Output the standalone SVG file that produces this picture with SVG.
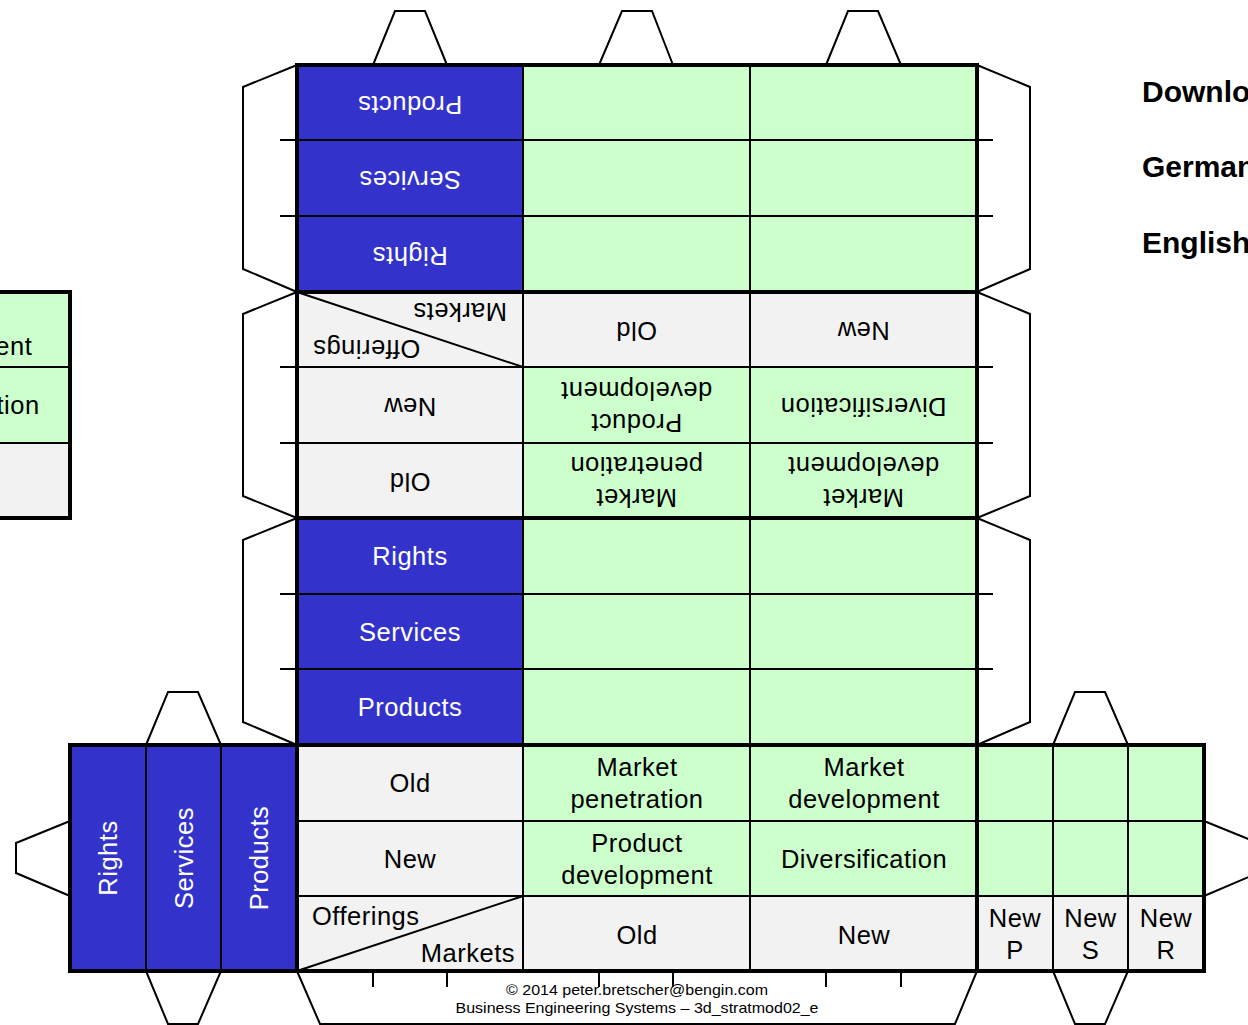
<svg xmlns="http://www.w3.org/2000/svg" width="1248" height="1025" viewBox="0 0 1248 1025">
<defs>
<style>
.bg{fill:#fff}
.blue{fill:#3333CC}
.green{fill:#CCFFCC}
.gray{fill:#F2F2F2}
.thick{stroke:#000;stroke-width:4;fill:none}
.thin{stroke:#000;stroke-width:2;fill:none}
.tab{stroke:#000;stroke-width:2;fill:#fff;stroke-linejoin:miter}
.t{font-family:"Liberation Sans",Arial,sans-serif;font-size:25.5px;letter-spacing:0.5px;text-anchor:middle;fill:#000}
.w{fill:#fff}
.st{text-anchor:start}
.en{text-anchor:end}
.foot{font-family:"Liberation Sans",Arial,sans-serif;font-size:15px;text-anchor:middle;fill:#000}
.dl{font-family:"Liberation Sans",Arial,sans-serif;font-size:30px;font-weight:bold;fill:#000}
</style>
</defs>
<rect class="bg" x="0" y="0" width="1248" height="1025"/>

<!-- tabs -->
<g id="tabs">
<polyline class="tab" points="373,65 395,11 425,11 447,65"/>
<polyline class="tab" points="599,65 622,11 652,11 673,65"/>
<polyline class="tab" points="826,65 848,11 878,11 901,65"/>
<polyline class="tab" points="297,65 243,87 243,269 297,292"/>
<polyline class="tab" points="297,292 243,314 243,496 297,518"/>
<polyline class="tab" points="297,518 243,540 243,722 297,745"/>
<polyline class="tab" points="977,65 1030,87 1030,269 977,292"/>
<polyline class="tab" points="977,292 1030,314 1030,496 977,518"/>
<polyline class="tab" points="977,518 1030,540 1030,722 977,745"/>
<polyline class="tab" points="146,745 168,692 198,692 221,745"/>
<polyline class="tab" points="146,971 168,1024 198,1024 221,971"/>
<polyline class="tab" points="70,821 16,843 16,873 70,896"/>
<polyline class="tab" points="1053,745 1075,692 1105,692 1128,745"/>
<polyline class="tab" points="1053,971 1075,1024 1105,1024 1128,971"/>
<polyline class="tab" points="1204,821 1258,843 1258,873 1204,896"/>
<polyline class="tab" points="297,971 320,1024 955,1024 977,971"/>
</g>

<!-- section A (top, upside down) -->
<g id="sectionA">
<rect class="blue" x="297" y="65" width="226" height="227"/>
<rect class="green" x="523" y="65" width="454" height="227"/>
<g transform="translate(0 2)">
<text class="t w" x="410" y="111.5" transform="rotate(180 410 102.5)">Products</text>
<text class="t w" x="410" y="187" transform="rotate(180 410 178)">Services</text>
<text class="t w" x="410" y="263" transform="rotate(180 410 254)">Rights</text>
</g>
</g>

<!-- section B (upside-down matrix) -->
<g id="sectionB">
<rect class="gray" x="297" y="292" width="680" height="75"/>
<rect class="gray" x="297" y="367" width="226" height="151"/>
<rect class="green" x="523" y="367" width="454" height="151"/>
<g transform="translate(0 1.5)">
<text class="t" x="636.5" y="338.5" transform="rotate(180 636.5 329.5)">Old</text>
<text class="t" x="863.5" y="338.5" transform="rotate(180 863.5 329.5)">New</text>
<text class="t" x="460" y="319" transform="rotate(180 460 310)">Markets</text>
<text class="t" x="366.5" y="356" transform="rotate(180 366.5 347)">Offerings</text>
<text class="t" x="410" y="414" transform="rotate(180 410 405)">New</text>
<g transform="rotate(180 636.5 405)">
<text class="t" x="636.5" y="398">Product</text>
<text class="t" x="636.5" y="430">development</text>
</g>
<text class="t" x="863.5" y="414" transform="rotate(180 863.5 405)">Diversification</text>
<text class="t" x="410" y="489.5" transform="rotate(180 410 480.5)">Old</text>
<g transform="rotate(180 636.5 480.5)">
<text class="t" x="636.5" y="473.5">Market</text>
<text class="t" x="636.5" y="505.5">penetration</text>
</g>
<g transform="rotate(180 863.5 480.5)">
<text class="t" x="863.5" y="473.5">Market</text>
<text class="t" x="863.5" y="505.5">development</text>
</g>
</g>
</g>

<!-- section C -->
<g id="sectionC">
<rect class="blue" x="297" y="518" width="226" height="227"/>
<rect class="green" x="523" y="518" width="454" height="227"/>
<text class="t w" x="410" y="565">Rights</text>
<text class="t w" x="410" y="641">Services</text>
<text class="t w" x="410" y="716">Products</text>
</g>

<!-- section D (matrix) -->
<g id="sectionD">
<rect class="gray" x="297" y="745" width="226" height="151"/>
<rect class="green" x="523" y="745" width="454" height="151"/>
<rect class="gray" x="297" y="896" width="680" height="75"/>
<text class="t" x="410" y="792">Old</text>
<text class="t" x="410" y="868">New</text>
<text class="t" x="637" y="776">Market</text>
<text class="t" x="637" y="808">penetration</text>
<text class="t" x="864" y="776">Market</text>
<text class="t" x="864" y="808">development</text>
<text class="t" x="637" y="852">Product</text>
<text class="t" x="637" y="884">development</text>
<text class="t" x="864" y="868">Diversification</text>
<text class="t st" x="312" y="925">Offerings</text>
<text class="t en" x="515" y="962">Markets</text>
<text class="t" x="637" y="944">Old</text>
<text class="t" x="864" y="944">New</text>
</g>

<!-- left panel -->
<g id="leftPanel">
<rect class="blue" x="70" y="745" width="227" height="226"/>
<text class="t w" x="108" y="867" transform="rotate(-90 108 858)">Rights</text>
<text class="t w" x="183.5" y="867" transform="rotate(-90 183.5 858)">Services</text>
<text class="t w" x="259" y="867" transform="rotate(-90 259 858)">Products</text>
</g>

<!-- right panel -->
<g id="rightPanel">
<rect class="green" x="977" y="745" width="227" height="151"/>
<rect class="gray" x="977" y="896" width="227" height="75"/>
<text class="t" x="1015" y="927">New</text>
<text class="t" x="1015" y="959">P</text>
<text class="t" x="1090.5" y="927">New</text>
<text class="t" x="1090.5" y="959">S</text>
<text class="t" x="1166" y="927">New</text>
<text class="t" x="1166" y="959">R</text>
</g>

<!-- partial panel at left edge -->
<g id="partialPanel">
<rect class="green" x="-157" y="292" width="227" height="151"/>
<rect class="gray" x="-157" y="443" width="227" height="75"/>
<text class="t" x="-43.5" y="354.5">development</text>
<text class="t" x="-43.5" y="414">Diversification</text>
<line class="thin" x1="0" y1="367" x2="70" y2="367"/>
<line class="thin" x1="0" y1="443" x2="70" y2="443"/>
<polyline class="thick" points="-10,292 70,292 70,518 -10,518"/>
</g>

<!-- grid lines -->
<g id="connectors">
<line class="thin" x1="280" y1="140" x2="993" y2="140"/>
<line class="thin" x1="280" y1="216" x2="993" y2="216"/>
<line class="thin" x1="280" y1="367" x2="993" y2="367"/>
<line class="thin" x1="280" y1="443" x2="993" y2="443"/>
<line class="thin" x1="280" y1="594" x2="993" y2="594"/>
<line class="thin" x1="280" y1="669" x2="993" y2="669"/>
<line class="thin" x1="297" y1="821" x2="1204" y2="821"/>
<line class="thin" x1="297" y1="896" x2="1204" y2="896"/>
<line class="thin" x1="523" y1="65" x2="523" y2="971"/>
<line class="thin" x1="750" y1="65" x2="750" y2="971"/>
<line class="thin" x1="146" y1="745" x2="146" y2="971"/>
<line class="thin" x1="221" y1="745" x2="221" y2="971"/>
<line class="thin" x1="1053" y1="745" x2="1053" y2="971"/>
<line class="thin" x1="1128" y1="745" x2="1128" y2="971"/>
<line class="thin" x1="297" y1="971" x2="523" y2="896"/>
<line class="thin" x1="297" y1="292" x2="523" y2="367"/>
<line class="thin" x1="373" y1="971" x2="373" y2="987"/>
<line class="thin" x1="447" y1="971" x2="447" y2="987"/>
<line class="thin" x1="599" y1="971" x2="599" y2="987"/>
<line class="thin" x1="673" y1="971" x2="673" y2="987"/>
<line class="thin" x1="826" y1="971" x2="826" y2="987"/>
<line class="thin" x1="901" y1="971" x2="901" y2="987"/>
<rect class="thick" x="297" y="65" width="680" height="906"/>
<line class="thick" x1="297" y1="292" x2="977" y2="292"/>
<line class="thick" x1="297" y1="518" x2="977" y2="518"/>
<line class="thick" x1="297" y1="745" x2="977" y2="745"/>
<rect class="thick" x="70" y="745" width="227" height="226"/>
<rect class="thick" x="977" y="745" width="227" height="226"/>
</g>

<!-- footer -->
<g id="footer">
<text class="foot" x="637" y="995" textLength="262" lengthAdjust="spacingAndGlyphs">© 2014 peter.bretscher@bengin.com</text>
<text class="foot" x="637" y="1013" textLength="363" lengthAdjust="spacingAndGlyphs">Business Engineering Systems – 3d_stratmod02_e</text>
</g>

<!-- right side text -->
<g id="downloads">
<text class="dl" x="1142" y="102">Download</text>
<text class="dl" x="1142" y="177">German</text>
<text class="dl" x="1142" y="253">English</text>
</g>
</svg>
